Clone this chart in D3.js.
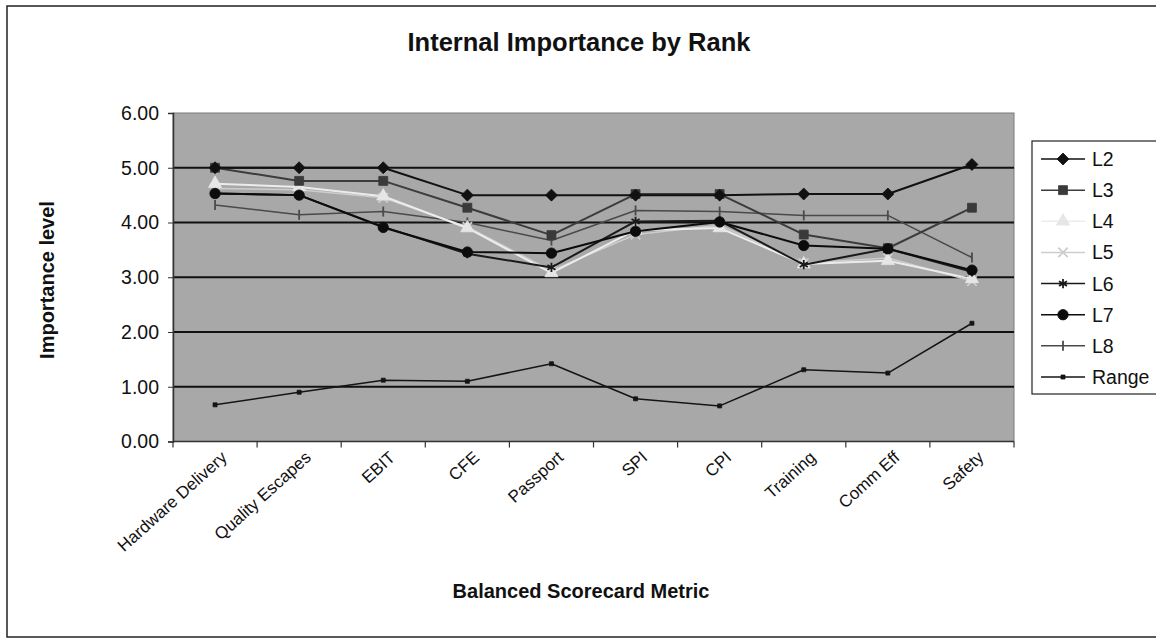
<!DOCTYPE html>
<html>
<head>
<meta charset="utf-8">
<script src="https://cdn.jsdelivr.net/npm/d3@7"></script>
<style>
  html, body { margin: 0; padding: 0; background: #fff; }
  svg { display: block; }
  text { font-family: "Liberation Sans", Arial, sans-serif; fill: #111; }
</style>
</head>
<body>
<svg id="chart" width="1156" height="643"></svg>
<script>
// Balanced scorecard metrics on the category axis
const categories = ["Hardware Delivery", "Quality Escapes", "EBIT", "CFE", "Passport",
                    "SPI", "CPI", "Training", "Comm Eff", "Safety"];

// Mean importance rating given by each rank level
const L2 = [5.00, 5.00, 5.00, 4.50, 4.50, 4.50, 4.50, 4.52, 4.52, 5.06];
const L3 = [5.00, 4.76, 4.76, 4.27, 3.77, 4.52, 4.52, 3.78, 3.53, 4.27];
const L4 = [4.71, 4.65, 4.48, 3.90, 3.08, 3.86, 3.90, 3.24, 3.30, 2.97];
const L5 = [4.62, 4.60, 4.45, 3.92, 3.12, 3.78, 3.95, 3.26, 3.35, 2.93];
const L6 = [4.53, 4.50, 3.92, 3.43, 3.18, 4.02, 4.03, 3.23, 3.52, 3.10];
const L7 = [4.53, 4.50, 3.91, 3.46, 3.44, 3.84, 4.01, 3.58, 3.52, 3.13];
const L8 = [4.32, 4.14, 4.20, 4.00, 3.67, 4.22, 4.20, 4.13, 4.13, 3.36];
const Range = [0.67, 0.90, 1.12, 1.10, 1.42, 0.78, 0.65, 1.31, 1.25, 2.16];

const seriesNames = ["L2", "L3", "L4", "L5", "L6", "L7", "L8", "Range"];
const yTicks = [0, 1, 2, 3, 4, 5, 6];

const seriesData = { L2, L3, L4, L5, L6, L7, L8, Range };

// Line and marker styling per series
const styles = {
  L2:    { stroke: "#111", width: 2,   marker: "diamond",  fill: "#111", size: 6 },
  L3:    { stroke: "#3c3c3c", width: 2, marker: "square", fill: "#3a3a3a", size: 80 },
  L4:    { stroke: "#ececec", width: 2, marker: "triangle", fill: "#e6e6e6", size: 75 },
  L5:    { stroke: "#cdcdcd", width: 1.5, marker: "cross", fill: "#cdcdcd", size: 60 },
  L6:    { stroke: "#1a1a1a", width: 2, marker: "asterisk", fill: "#1a1a1a", size: 60 },
  L7:    { stroke: "#0c0c0c", width: 2, marker: "circle", fill: "#0c0c0c", size: 85 },
  L8:    { stroke: "#4a4a4a", width: 1.5, marker: "plus", fill: "#4a4a4a", size: 60 },
  Range: { stroke: "#151515", width: 1.5, marker: "smallsquare", fill: "#151515", size: 16 }
};

const svg = d3.select("#chart");

// Outer chart frame
svg.append("rect")
  .attr("x", 7).attr("y", 6).attr("width", 1170).attr("height", 631)
  .attr("fill", "#fff").attr("stroke", "#222").attr("stroke-width", 1.5);

const plot = { left: 173, right: 1014, top: 113, bottom: 441.5 };

const x = d3.scaleBand().domain(categories).range([plot.left, plot.right]).padding(0);
const y = d3.scaleLinear().domain([0, 6]).range([plot.bottom, plot.top]);

// Plot area background
svg.append("rect")
  .attr("x", plot.left).attr("y", plot.top)
  .attr("width", plot.right - plot.left).attr("height", plot.bottom - plot.top)
  .attr("fill", "#a8a8a8").attr("stroke", "#7a7a7a").attr("stroke-width", 1);

// Horizontal gridlines
svg.append("g").selectAll("line")
  .data(yTicks.filter(t => t > 0 && t < 6))
  .join("line")
  .attr("x1", plot.left).attr("x2", plot.right)
  .attr("y1", d => y(d)).attr("y2", d => y(d))
  .attr("stroke", "#111").attr("stroke-width", 2.2);

// Y axis
const yAxis = svg.append("g")
  .attr("transform", `translate(${plot.left},0)`)
  .call(d3.axisLeft(y).tickValues(yTicks).tickFormat(d3.format(".2f")).tickSize(5).tickPadding(9));
yAxis.select(".domain").attr("stroke", "#333").attr("stroke-width", 1.5);
yAxis.selectAll(".tick line").attr("stroke", "#333");
yAxis.selectAll(".tick text")
  .attr("font-size", 19.5).attr("fill", "#111")
  .style("font-family", '"Liberation Sans", Arial, sans-serif');

// X axis: ticks sit on the category boundaries
const boundaries = categories.map(c => x(c)).concat([plot.right]);
const xAxisG = svg.append("g");
xAxisG.append("line")
  .attr("x1", plot.left).attr("x2", plot.right)
  .attr("y1", plot.bottom).attr("y2", plot.bottom)
  .attr("stroke", "#333").attr("stroke-width", 1.5);
xAxisG.selectAll("line.tick")
  .data(boundaries)
  .join("line").attr("class", "tick")
  .attr("x1", d => d).attr("x2", d => d)
  .attr("y1", plot.bottom).attr("y2", plot.bottom + 6)
  .attr("stroke", "#333").attr("stroke-width", 1.2);

// Rotated category labels
xAxisG.selectAll("text")
  .data(categories)
  .join("text")
  .attr("transform", d => `translate(${x(d) + x.bandwidth() / 2 + 9},${plot.bottom + 13}) rotate(-42)`)
  .attr("text-anchor", "end")
  .attr("dy", "0.35em")
  .attr("font-size", 17)
  .text(d => d);

// Series lines
const line = d3.line()
  .x((d, i) => x(categories[i]) + x.bandwidth() / 2)
  .y(d => y(d));

const drawOrder = ["Range", "L8", "L5", "L4", "L3", "L6", "L7", "L2"];

function markerPath(type, size) {
  switch (type) {
    case "diamond":  return `M0,${-size}L${size},0L0,${size}L${-size},0Z`;
    case "square":   return d3.symbol(d3.symbolSquare, size)();
    case "triangle": return d3.symbol(d3.symbolTriangle, size)();
    case "circle":   return d3.symbol(d3.symbolCircle, size)();
    case "cross":    return d3.symbol(d3.symbolX, size)();
    case "asterisk": return d3.symbol(d3.symbolAsterisk, size)();
    case "plus":     return "M0,-5L0,5";
    case "smallsquare": return d3.symbol(d3.symbolSquare, size)();
  }
}
const strokeMarkers = new Set(["cross", "asterisk", "plus"]);

drawOrder.forEach(name => {
  const st = styles[name];
  const vals = seriesData[name];
  const g = svg.append("g").attr("class", "series-" + name);
  g.append("path")
    .datum(vals)
    .attr("d", line)
    .attr("fill", "none")
    .attr("stroke", st.stroke)
    .attr("stroke-width", st.width)
    .attr("stroke-linejoin", "round");
  g.selectAll("path.mk")
    .data(vals)
    .join("path").attr("class", "mk")
    .attr("transform", (d, i) => `translate(${x(categories[i]) + x.bandwidth() / 2},${y(d)})`)
    .attr("d", markerPath(st.marker, st.size))
    .attr("fill", strokeMarkers.has(st.marker) ? "none" : st.fill)
    .attr("stroke", st.fill)
    .attr("stroke-width", strokeMarkers.has(st.marker) ? 1.8 : 0.8);
});

// Legend
const legend = svg.append("g");
legend.append("rect")
  .attr("x", 1032).attr("y", 141).attr("width", 140).attr("height", 253)
  .attr("fill", "#fff").attr("stroke", "#222").attr("stroke-width", 1.2);

const legendY = d3.scalePoint().domain(seriesNames).range([159, 377]);
seriesNames.forEach(name => {
  const st = styles[name];
  const ly = legendY(name);
  legend.append("line")
    .attr("x1", 1041).attr("x2", 1085).attr("y1", ly).attr("y2", ly)
    .attr("stroke", st.stroke).attr("stroke-width", Math.min(st.width, 1.5));
  legend.append("path")
    .attr("transform", `translate(1063,${ly})`)
    .attr("d", markerPath(st.marker, st.size))
    .attr("fill", strokeMarkers.has(st.marker) ? "none" : st.fill)
    .attr("stroke", st.fill)
    .attr("stroke-width", strokeMarkers.has(st.marker) ? 1.8 : 0.8);
  legend.append("text")
    .attr("x", 1092).attr("y", ly).attr("dy", "0.36em")
    .attr("font-size", 19.5)
    .text(name);
});

// Titles
svg.append("text")
  .attr("x", 579).attr("y", 51)
  .attr("text-anchor", "middle")
  .attr("font-size", 25.5).attr("font-weight", "bold")
  .text("Internal Importance by Rank");

svg.append("text")
  .attr("x", 581).attr("y", 598)
  .attr("text-anchor", "middle")
  .attr("font-size", 20).attr("font-weight", "bold")
  .text("Balanced Scorecard Metric");

svg.append("text")
  .attr("transform", "translate(54,280) rotate(-90)")
  .attr("text-anchor", "middle")
  .attr("font-size", 20).attr("font-weight", "bold")
  .text("Importance level");
</script>
</body>
</html>
